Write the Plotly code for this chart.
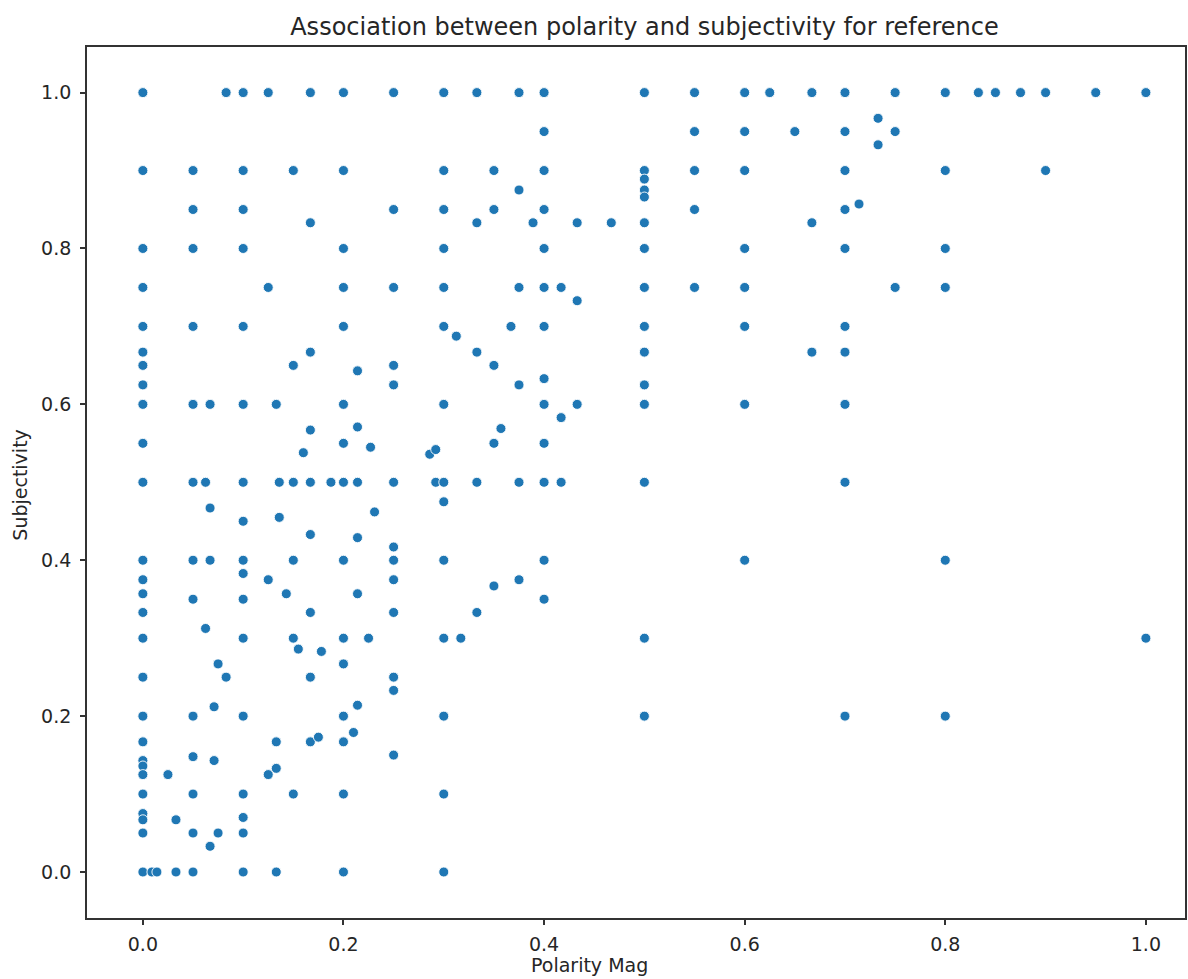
import plotly.graph_objects as go

# Data (grouped by polarity column)
polarity_mag = (
    [0.0] * 27
    + [0.009, 0.014, 0.025, 0.033, 0.033]
    + [0.05] * 13
    + [0.0625, 0.0625, 0.067, 0.067, 0.067, 0.067, 0.071, 0.071, 0.075, 0.075, 0.083, 0.083]
    + [0.1] * 17
    + [0.125] * 4 + [0.133] * 4 + [0.136] * 2 + [0.143]
    + [0.15] * 6 + [0.155, 0.16]
    + [0.167] * 9 + [0.175, 0.178, 0.1875]
    + [0.2] * 15
    + [0.21] + [0.214] * 6 + [0.225, 0.227, 0.231]
    + [0.25] * 13
    + [0.286, 0.292, 0.292]
    + [0.3] * 14
    + [0.3125, 0.317]
    + [0.333] * 5 + [0.35] * 5 + [0.357, 0.367]
    + [0.375] * 6 + [0.389]
    + [0.4] * 13
    + [0.417] * 3 + [0.433] * 3 + [0.467]
    + [0.5] * 15
    + [0.55] * 5 + [0.6] * 8 + [0.625, 0.65]
    + [0.667] * 3 + [0.7] * 10 + [0.714, 0.733, 0.733]
    + [0.75] * 3 + [0.8] * 6
    + [0.833, 0.85, 0.875, 0.9, 0.9, 0.95, 1.0, 1.0]
)

subjectivity = (
    [1.0, 0.9, 0.8, 0.75, 0.7, 0.667, 0.65, 0.625, 0.6, 0.55, 0.5, 0.4, 0.375, 0.357,
     0.333, 0.3, 0.25, 0.2, 0.167, 0.143, 0.136, 0.125, 0.1, 0.075, 0.067, 0.05, 0.0]
    + [0.0, 0.0, 0.125, 0.067, 0.0]
    + [0.9, 0.85, 0.8, 0.7, 0.6, 0.5, 0.4, 0.35, 0.2, 0.148, 0.1, 0.05, 0.0]
    + [0.5, 0.3125, 0.6, 0.467, 0.4, 0.033, 0.212, 0.143, 0.267, 0.05, 1.0, 0.25]
    + [1.0, 0.9, 0.85, 0.8, 0.7, 0.6, 0.5, 0.45, 0.4, 0.383, 0.35, 0.3, 0.2, 0.1, 0.07, 0.05, 0.0]
    + [1.0, 0.75, 0.375, 0.125] + [0.6, 0.167, 0.133, 0.0] + [0.5, 0.455] + [0.357]
    + [0.9, 0.65, 0.5, 0.4, 0.3, 0.1] + [0.286, 0.538]
    + [1.0, 0.833, 0.667, 0.567, 0.5, 0.433, 0.333, 0.25, 0.167] + [0.173, 0.283, 0.5]
    + [1.0, 0.9, 0.8, 0.75, 0.7, 0.6, 0.55, 0.5, 0.4, 0.3, 0.267, 0.2, 0.167, 0.1, 0.0]
    + [0.179] + [0.643, 0.571, 0.5, 0.429, 0.357, 0.214] + [0.3, 0.545, 0.462]
    + [1.0, 0.85, 0.75, 0.65, 0.625, 0.5, 0.417, 0.4, 0.375, 0.333, 0.25, 0.233, 0.15]
    + [0.536, 0.542, 0.5]
    + [1.0, 0.9, 0.85, 0.8, 0.75, 0.7, 0.6, 0.5, 0.475, 0.4, 0.3, 0.2, 0.1, 0.0]
    + [0.6875, 0.3]
    + [1.0, 0.833, 0.667, 0.5, 0.333] + [0.9, 0.85, 0.65, 0.55, 0.367] + [0.569, 0.7]
    + [1.0, 0.875, 0.75, 0.625, 0.5, 0.375] + [0.833]
    + [1.0, 0.95, 0.9, 0.85, 0.8, 0.75, 0.7, 0.633, 0.6, 0.55, 0.5, 0.4, 0.35]
    + [0.75, 0.583, 0.5] + [0.833, 0.733, 0.6] + [0.833]
    + [1.0, 0.9, 0.889, 0.875, 0.866, 0.833, 0.8, 0.75, 0.7, 0.667, 0.625, 0.6, 0.5, 0.3, 0.2]
    + [1.0, 0.95, 0.9, 0.85, 0.75] + [1.0, 0.95, 0.9, 0.8, 0.75, 0.7, 0.6, 0.4] + [1.0, 0.95]
    + [1.0, 0.833, 0.667] + [1.0, 0.95, 0.9, 0.85, 0.8, 0.7, 0.667, 0.6, 0.5, 0.2] + [0.857, 0.967, 0.933]
    + [1.0, 0.95, 0.75] + [1.0, 0.9, 0.8, 0.75, 0.4, 0.2]
    + [1.0, 1.0, 1.0, 1.0, 0.9, 1.0, 1.0, 0.3]
)

x_ticks = [0.0, 0.2, 0.4, 0.6, 0.8, 1.0]
y_ticks = [0.0, 0.2, 0.4, 0.6, 0.8, 1.0]

assert len(polarity_mag) == len(subjectivity), (len(polarity_mag), len(subjectivity))

FONT = "DejaVu Sans"
AXIS_COLOR = "#333333"
TEXT_COLOR = "#262626"

fig = go.Figure(
    go.Scatter(
        x=polarity_mag,
        y=subjectivity,
        mode="markers",
        marker=dict(color="#1f77b4", size=10, line=dict(color="white", width=0.9)),
        hoverinfo="x+y",
    )
)

axis_common = dict(
    showgrid=False,
    zeroline=False,
    showline=True,
    linecolor=AXIS_COLOR,
    linewidth=1.8,
    mirror=True,
    ticks="outside",
    ticklen=5,
    tickwidth=1.5,
    tickcolor=AXIS_COLOR,
    tickfont=dict(family=FONT, size=19, color=TEXT_COLOR),
    tickformat=".1f",
)

fig.update_layout(
    width=1188,
    height=979,
    margin=dict(l=87, r=1, t=47, b=61),
    paper_bgcolor="white",
    plot_bgcolor="white",
    showlegend=False,
    title=dict(
        text="Association between polarity and subjectivity for reference",
        font=dict(family=FONT, size=24, color=TEXT_COLOR),
        x=0.5425, xanchor="center", y=0.973, yanchor="middle",
    ),
    xaxis=dict(axis_common, range=[-0.0557, 1.039], tickvals=x_ticks, ticklabelstandoff=3),
    yaxis=dict(axis_common, range=[-0.059, 1.0585], tickvals=y_ticks, ticklabelstandoff=5),
    annotations=[
        dict(
            text="Polarity Mag", xref="paper", yref="paper",
            x=0.458, y=-0.0545, xanchor="center", yanchor="middle", showarrow=False,
            font=dict(family=FONT, size=19, color=TEXT_COLOR),
        ),
        dict(
            text="Subjectivity", xref="paper", yref="paper",
            x=-0.0605, y=0.497, xanchor="center", yanchor="middle", showarrow=False,
            textangle=-90,
            font=dict(family=FONT, size=19, color=TEXT_COLOR),
        ),
    ],
)

fig.write_html("out.html")
